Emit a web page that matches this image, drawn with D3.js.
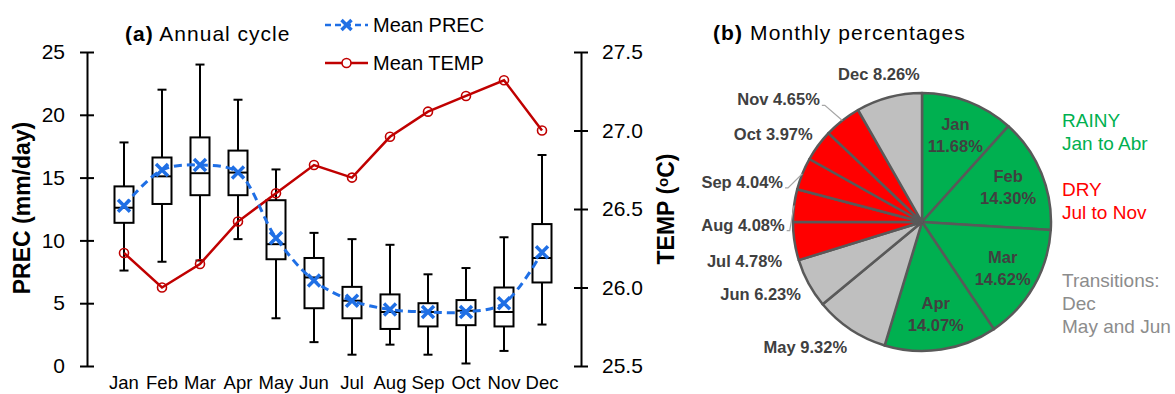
<!DOCTYPE html>
<html><head><meta charset="utf-8">
<script src="https://cdn.jsdelivr.net/npm/d3@7"></script>
<style>
body{margin:0;background:#fff}
svg{display:block;font-family:"Liberation Sans",Arial,Helvetica,sans-serif}
</style>
</head><body>
<svg id="c" width="1175" height="394"></svg>
<script>
// ---------- DATA ----------
const months = ["Jan","Feb","Mar","Apr","May","Jun","Jul","Aug","Sep","Oct","Nov","Dec"];
const precWhiskerLow  = [7.6, 8.3, 8.4, 10.1, 3.8, 1.9, 0.9, 1.7, 0.9, 0.2, 1.2, 3.3];
const precQ1          = [11.4, 12.9, 13.6, 13.6, 8.5, 4.6, 3.8, 2.95, 3.15, 3.25, 3.15, 6.65];
const precMedian      = [12.6, 15.1, 15.35, 15.4, 9.7, 7.05, 5.2, 4.3, 4.3, 4.4, 4.3, 8.6];
const precQ3          = [14.3, 16.6, 18.2, 17.15, 13.2, 8.6, 6.3, 5.7, 5.0, 5.25, 6.25, 11.3];
const precWhiskerHigh = [17.8, 22.0, 24.0, 21.2, 15.65, 10.6, 10.1, 9.65, 7.3, 7.8, 10.25, 16.8];
const precMean        = [12.75, 15.6, 16.0, 15.4, 10.2, 6.8, 5.2, 4.5, 4.3, 4.3, 5.0, 9.05];
const tempMean        = [26.22, 26.0, 26.15, 26.42, 26.6, 26.78, 26.70, 26.96, 27.12, 27.22, 27.32, 27.0];
const precTicks = [0, 5, 10, 15, 20, 25];
const tempTicks = [25.5, 26.0, 26.5, 27.0, 27.5];

const pieMonths = ["Jan","Feb","Mar","Apr","May","Jun","Jul","Aug","Sep","Oct","Nov","Dec"];
const piePct    = [11.68, 14.30, 14.62, 14.07, 9.32, 6.23, 4.78, 4.08, 4.04, 3.97, 4.65, 8.26];
const pieSeason = ["rainy","rainy","rainy","rainy","trans","trans","dry","dry","dry","dry","dry","trans"];

const legendRainy = ["RAINY", "Jan to Abr"];
const legendDry   = ["DRY", "Jul to Nov"];
const legendTrans = ["Transitions:", "Dec", "May and Jun"];

// ---------- LAYOUT / STYLE ----------
const svg = d3.select("#c");
const BLUE = "#1f6fe5", RED = "#c00000";
const seasonColor = {rainy:"#00b050", dry:"#ff0000", trans:"#bfbfbf"};
const textColor = {rainy:"#00b050", dry:"#ff0000", trans:"#8c8c8c"};

const x = d3.scalePoint().domain(months).range([124, 542]);
const yP = d3.scaleLinear().domain([0, 25]).range([366, 52]);
const yT = d3.scaleLinear().domain([25.5, 27.5]).range([366, 52]);
const boxW = 19, capW = 9;

// axes
const axL = svg.append("g").attr("transform","translate(87,0)")
  .call(d3.axisLeft(yP).tickValues(precTicks).tickSizeInner(7).tickSizeOuter(0).tickPadding(15));
const axR = svg.append("g").attr("transform","translate(581,0)")
  .call(d3.axisRight(yT).tickValues(tempTicks).tickFormat(d3.format(".1f")).tickSizeInner(7).tickSizeOuter(0).tickPadding(14));
[axL, axR].forEach(g => {
  g.select(".domain").attr("stroke","#000").attr("stroke-width",2);
  g.selectAll(".tick line").attr("stroke","#000").attr("stroke-width",2).attr("x1",-7).attr("x2",7);
  g.selectAll(".tick text").attr("font-size",21).attr("fill","#000")
    .attr("font-family","'Liberation Sans',Arial,sans-serif");
});

// month labels
svg.append("g").selectAll("text").data(months).join("text")
  .attr("x", d => x(d)).attr("y", 389).attr("text-anchor","middle")
  .attr("font-size",18.5).attr("fill","#000").text(d => d);

// box plots
const boxes = months.map((m,i) => ({m, lo:precWhiskerLow[i], q1:precQ1[i], med:precMedian[i], q3:precQ3[i], hi:precWhiskerHigh[i]}));
const bg = svg.append("g").attr("stroke","#000").attr("stroke-width",2).attr("fill","none");
boxes.forEach(b => {
  const cxm = x(b.m);
  bg.append("line").attr("x1",cxm).attr("x2",cxm).attr("y1",yP(b.hi)).attr("y2",yP(b.q3));
  bg.append("line").attr("x1",cxm).attr("x2",cxm).attr("y1",yP(b.q1)).attr("y2",yP(b.lo));
  bg.append("line").attr("x1",cxm-capW/2).attr("x2",cxm+capW/2).attr("y1",yP(b.hi)).attr("y2",yP(b.hi));
  bg.append("line").attr("x1",cxm-capW/2).attr("x2",cxm+capW/2).attr("y1",yP(b.lo)).attr("y2",yP(b.lo));
  bg.append("rect").attr("x",cxm-boxW/2).attr("width",boxW).attr("y",yP(b.q3)).attr("height",yP(b.q1)-yP(b.q3));
  bg.append("line").attr("x1",cxm-boxW/2).attr("x2",cxm+boxW/2).attr("y1",yP(b.med)).attr("y2",yP(b.med));
});

// temp line
const tData = months.map((m,i)=>[x(m), yT(tempMean[i])]);
svg.append("path").attr("d", d3.line()(tData)).attr("fill","none").attr("stroke",RED).attr("stroke-width",2.5);
svg.append("g").selectAll("circle").data(tData).join("circle")
  .attr("cx",d=>d[0]).attr("cy",d=>d[1]).attr("r",4.5)
  .attr("fill","none").attr("stroke",RED).attr("stroke-width",1.6);

// prec mean line (smoothed dashed)
const pData = months.map((m,i)=>[x(m), yP(precMean[i])]);
svg.append("path").attr("d", d3.line().curve(d3.curveCatmullRom.alpha(0.5))(pData))
  .attr("fill","none").attr("stroke",BLUE).attr("stroke-width",3).attr("stroke-dasharray","8,5");
const xMark = (g, cx0, cy0, s) => {
  g.append("path").attr("d",`M${cx0-s},${cy0-s}L${cx0+s},${cy0+s}M${cx0-s},${cy0+s}L${cx0+s},${cy0-s}`)
   .attr("stroke",BLUE).attr("stroke-width",3.5).attr("fill","none");
};
const mg = svg.append("g");
pData.forEach(d => xMark(mg, d[0], d[1], 6));

// legend
const lg = svg.append("g");
lg.append("line").attr("x1",325).attr("x2",368).attr("y1",25).attr("y2",25)
  .attr("stroke",BLUE).attr("stroke-width",2.5).attr("stroke-dasharray","6,4");
xMark(lg, 346.5, 25, 5);
lg.append("text").attr("x",373).attr("y",32).attr("font-size",20).text("Mean PREC");
lg.append("line").attr("x1",325).attr("x2",368).attr("y1",63).attr("y2",63)
  .attr("stroke",RED).attr("stroke-width",2.5);
lg.append("circle").attr("cx",346.5).attr("cy",63).attr("r",4.5).attr("fill","#fff").attr("stroke",RED).attr("stroke-width",1.6);
lg.append("text").attr("x",373).attr("y",70).attr("font-size",20).text("Mean TEMP");

// titles
const ta = svg.append("text").attr("x",125).attr("y",41).attr("font-size",21).attr("letter-spacing",1.0);
ta.append("tspan").attr("font-weight","bold").text("(a)");
ta.append("tspan").text(" Annual cycle");
const tb = svg.append("text").attr("x",713).attr("y",40).attr("font-size",21).attr("letter-spacing",1.1);
tb.append("tspan").attr("font-weight","bold").text("(b)");
tb.append("tspan").text(" Monthly percentages");

// axis titles
svg.append("text").attr("transform","translate(22,208) rotate(-90)")
  .attr("text-anchor","middle").attr("dominant-baseline","central")
  .attr("font-size",23).attr("font-weight","bold").text("PREC (mm/day)");
const tt = svg.append("text").attr("transform","translate(666,209) rotate(-90)")
  .attr("text-anchor","middle").attr("dominant-baseline","central")
  .attr("font-size",23).attr("font-weight","bold");
tt.append("tspan").text("TEMP (");
tt.append("tspan").attr("font-size",15).attr("dy",-4).text("o");
tt.append("tspan").attr("dy",4).text("C)");

// ---------- PIE ----------
const cx = 922, cy = 222, R = 129;
const pieData = pieMonths.map((m,i)=>({m, pct:piePct[i], season:pieSeason[i]}));
const arcs = d3.pie().sort(null).value(d=>d.pct)(pieData);
const arc = d3.arc().innerRadius(0).outerRadius(R);
const pg = svg.append("g").attr("transform",`translate(${cx},${cy})`);
pg.selectAll("path").data(arcs).join("path")
  .attr("d", arc).attr("fill", d=>seasonColor[d.data.season])
  .attr("stroke","#595959").attr("stroke-width",2.5).attr("stroke-linejoin","round");

const polar = (a, r) => [r*Math.sin(a), -r*Math.cos(a)];
const mid = d => (d.startAngle + d.endAngle)/2;

// inner labels (rainy)
arcs.filter(d=>d.data.season==="rainy").forEach(d=>{
  const [px,py] = polar(mid(d), 93);
  const t = pg.append("text").attr("text-anchor","middle").attr("font-size",16.5)
    .attr("font-weight","bold").attr("fill","#404040");
  t.append("tspan").attr("x",px).attr("y",py-11).attr("dominant-baseline","central").text(d.data.m);
  t.append("tspan").attr("x",px).attr("y",py+11).attr("dominant-baseline","central").text(d.data.pct.toFixed(2)+"%");
});

// outer labels
const outerNudge = {Dec:[-6,-8,"middle"], Nov:[-13,-9,"end"], Oct:[7,-2,"end"], Sep:[-5,14,"end"],
  Aug:[6,21,"end"], Jul:[3,17,"end"], Jun:[6,3,"end"], May:[5,5,"end"]};
const leaders = ["Nov","Sep","Aug"];
arcs.filter(d=>d.data.season!=="rainy").forEach(d=>{
  const [bx,by] = polar(mid(d), R*1.12);
  const n = outerNudge[d.data.m];
  const lx = bx + n[0], ly = by + n[1];
  pg.append("text").attr("x",lx).attr("y",ly).attr("text-anchor",n[2]).attr("dominant-baseline","central")
    .attr("font-size",16.5).attr("font-weight","bold").attr("fill","#404040")
    .text(`${d.data.m} ${d.data.pct.toFixed(2)}%`);
  if (leaders.includes(d.data.m)) {
    const [ex,ey] = polar(mid(d), R);
    pg.append("polyline").attr("points",`${lx+2},${ly+6} ${lx+5},${ly+6} ${ex},${ey}`)
      .attr("fill","none").attr("stroke","#a6a6a6").attr("stroke-width",1.2);
  }
});

// season legend
const sl = svg.append("g").attr("font-size",19);
const addLines = (lines, color, y0) => lines.forEach((s,i)=>
  sl.append("text").attr("x",1062).attr("y",y0 + i*23).attr("fill",color).text(s));
addLines(legendRainy, textColor.rainy, 127);
addLines(legendDry, textColor.dry, 196);
addLines(legendTrans, textColor.trans, 287);
</script>
</body></html>
